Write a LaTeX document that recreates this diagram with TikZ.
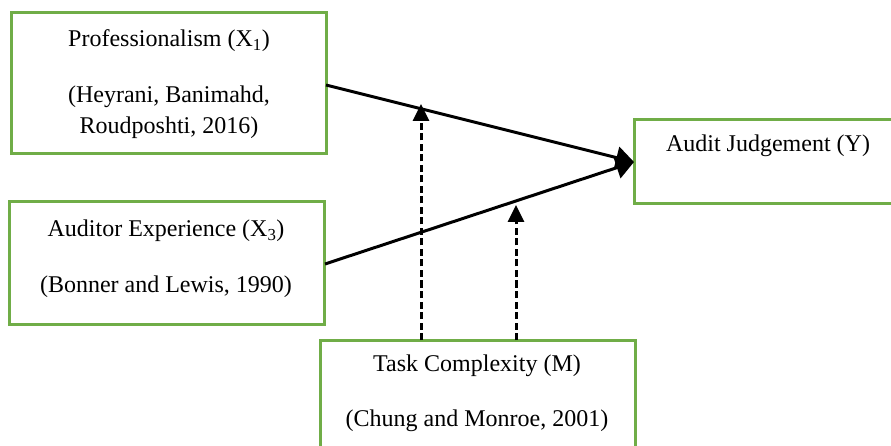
\documentclass[tikz,border=0pt]{standalone}
\usepackage{fontspec}
\setmainfont{Liberation Serif}
\usetikzlibrary{arrows.meta}
\definecolor{boxgreen}{HTML}{70AD47}
\tikzset{
  box/.style={draw=boxgreen, line width=3pt, fill=white},
  lbl/.style={font=\fontsize{24}{31}\selectfont, inner sep=0pt, anchor=center, align=center},
  solidarrow/.style={line width=3pt, -{Triangle[length=18pt,width=22pt]}},
  dasharrow/.style={line width=3pt, dash pattern=on 7pt off 3.5pt, -{Triangle[length=17pt,width=16pt]}}
}
\begin{document}
\begin{tikzpicture}[x=1pt,y=-1pt]
\useasboundingbox (0,0) rectangle (891,446);
\clip (0,0) rectangle (891,446);
% boxes
\draw[box] (11,13) rectangle (326,154);
\node[inner sep=0pt] (b1) at (168.5,83.5) {};
\draw[box] (9,202) rectangle (324,324);
\node[inner sep=0pt] (b2) at (166.5,263) {};
\draw[box] (320,340) rectangle (635,470);
\node[inner sep=0pt] (b3) at (477.5,405) {};
\draw[box] (634,120) rectangle (950,204);
\node[inner sep=0pt] (b4) at (792,162) {};
% texts
\node[lbl] (t1a) at (169,41) {Professionalism (X\textsubscript{1})};
\node[lbl] (t1b) at (169,97) {(Heyrani, Banimahd,};
\node[lbl] (t1c) at (169,128) {Roudposhti, 2016)};
\node[lbl] (t2a) at (166,231) {Auditor Experience (X\textsubscript{3})};
\node[lbl] (t2b) at (166,287) {(Bonner and Lewis, 1990)};
\node[lbl] (t3a) at (477,366) {Task Complexity (M)};
\node[lbl] (t3b) at (477,421) {(Chung and Monroe, 2001)};
\node[lbl] (t4a) at (768,146) {Audit Judgement (Y)};
% connector end points
\coordinate (p1) at (326,85);
\coordinate (p2) at (325,264);
\coordinate (tip) at (634,162);
\coordinate (d1s) at (421,340);
\coordinate (d1e) at (421,104);
\coordinate (d2s) at (516,340);
\coordinate (d2e) at (516,205);
% connectors
\draw[solidarrow] (p1) -- (tip);
\draw[solidarrow] (p2) -- (tip);
\draw[dasharrow] (d1s) -- (d1e);
\draw[dasharrow] (d2s) -- (d2e);
\end{tikzpicture}
\end{document}
